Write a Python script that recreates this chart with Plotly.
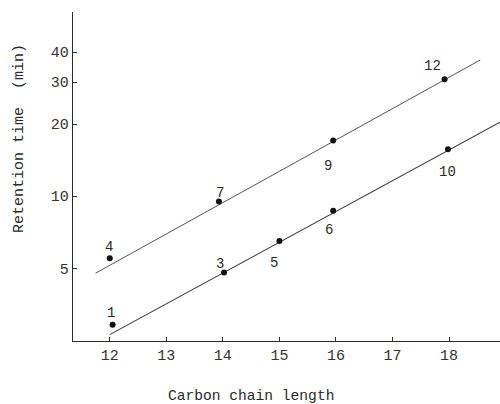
import math
import plotly.graph_objects as go

# Data
point_ids = ["1", "3", "4", "5", "6", "7", "9", "10", "12"]
carbon = [12.05, 14.02, 12.0, 15.0, 15.95, 13.93, 15.95, 17.98, 17.92]
retention = [2.9, 4.8, 5.5, 6.5, 8.7, 9.5, 17.1, 15.7, 30.8]

upper_line_x = [11.75, 18.55]
upper_line_y = [4.77, 37.1]
lower_line_x = [12.0, 18.9]
lower_line_y = [2.64, 20.4]

x_ticks = [12, 13, 14, 15, 16, 17, 18]
y_ticks = [5, 10, 20, 30, 40]

x_title = "Carbon chain length"
y_title = "Retention time  (min)"

# label offsets in pixels (style only): (dx right, dy down)
label_offsets = {
    "1": (-2, -12), "3": (-4, -9), "4": (-1, -11), "5": (-5, 22),
    "6": (-4, 19), "7": (1, -9), "9": (-5, 26), "10": (0, 23), "12": (-12, -13),
}

FONT = "Liberation Mono"
INK = "#2a2a2a"

fig = go.Figure()
fig.add_trace(go.Scatter(x=upper_line_x, y=upper_line_y, mode="lines",
                         line=dict(color="#555555", width=1), showlegend=False))
fig.add_trace(go.Scatter(x=lower_line_x, y=lower_line_y, mode="lines",
                         line=dict(color="#333333", width=1.1), showlegend=False))
fig.add_trace(go.Scatter(x=carbon, y=retention, mode="markers",
                         marker=dict(color="#111111", size=6), showlegend=False))

for pid, xv, yv in zip(point_ids, carbon, retention):
    dx, dy = label_offsets[pid]
    fig.add_annotation(x=xv, y=math.log10(yv), text=pid, showarrow=False,
                       xshift=dx, yshift=-dy,
                       font=dict(family=FONT, size=14, color=INK))

# axis titles (placed like the original, not centred on the plot)
fig.add_annotation(xref="paper", yref="paper", x=0.418, y=-0.167,
                   xanchor="center", yanchor="middle", showarrow=False,
                   text=x_title, font=dict(family=FONT, size=14.6, color=INK))
fig.add_annotation(xref="paper", yref="paper", x=-0.124, y=0.614,
                   xanchor="center", yanchor="middle", showarrow=False, textangle=-90,
                   text=y_title, font=dict(family=FONT, size=15, color=INK))

fig.update_xaxes(range=[11.35, 18.9], tickvals=x_ticks,
                 ticktext=[str(t) for t in x_ticks],
                 showline=True, linecolor=INK, linewidth=1.3,
                 ticks="inside", ticklen=4, tickcolor=INK,
                 showgrid=False, zeroline=False,
                 tickfont=dict(family=FONT, size=15, color="#333333"))
fig.update_yaxes(type="log", range=[0.395, 1.770], tickvals=y_ticks,
                 ticktext=[str(t) for t in y_ticks],
                 showline=True, linecolor=INK, linewidth=1.3,
                 ticks="inside", ticklen=4, tickcolor=INK,
                 showgrid=False, zeroline=False,
                 tickfont=dict(family=FONT, size=15, color="#333333"))

fig.update_layout(width=500, height=404, plot_bgcolor="white", paper_bgcolor="white",
                  margin=dict(l=73, r=0, t=12, b=63))

fig.write_html("out.html")
